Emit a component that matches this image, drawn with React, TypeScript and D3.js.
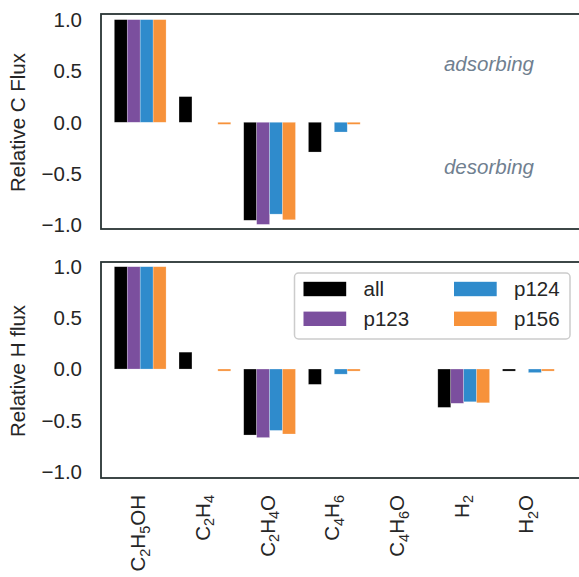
import * as d3 from "d3";
import { useEffect, useRef } from "react";

const categories = ["C2H5OH", "C2H4", "C2H4O", "C4H6", "C4H6O", "H2", "H2O"];
const seriesNames = ["all", "p123", "p124", "p156"];
const seriesColors = ["#000000", "#7b4f9e", "#2f8bcc", "#f7923a"];

// relative carbon flux per species
const cAll = [1, 0.25, -0.955, -0.29, 0, 0, 0];
const cP123 = [1, 0, -0.995, 0, 0, 0, 0];
const cP124 = [1, 0, -0.895, -0.095, 0, 0, 0];
const cP156 = [1, -0.02, -0.95, -0.02, 0, 0, 0];

// relative hydrogen flux per species
const hAll = [1, 0.165, -0.645, -0.15, 0, -0.375, -0.02];
const hP123 = [1, 0, -0.67, 0, 0, -0.335, 0];
const hP124 = [1, 0, -0.6, -0.05, 0, -0.32, -0.035];
const hP156 = [1, -0.02, -0.635, -0.02, 0, -0.33, -0.02];

const yTicks = [-1, -0.5, 0, 0.5, 1];

const FONT = "'Liberation Sans', Arial, sans-serif";
const TEXT = "#262626";
const SPINE = "#283434";

export default function App() {
    const svgRef = useRef<SVGSVGElement>(null);
    const width = 579;
    const height = 577;
    const left = 101;
    const right = 582;

    useEffect(() => {
        if (svgRef.current) {
            drawChart();
        }
    }, [svgRef]);

    const drawChart = () => {
        const svg = d3.select(svgRef.current);
        svg.selectAll("*").remove();

        // group position and bar offset inside group
        const step = 64.7;
        const firstCenter = 140.2;
        const x0 = d3
            .scaleBand()
            .domain(categories)
            .range([firstCenter - step / 2, firstCenter - step / 2 + step * categories.length])
            .padding(0);
        const x1 = d3
            .scaleBand()
            .domain(seriesNames)
            .range([0.1 * step, 0.9 * step])
            .padding(0);

        drawPanel(svg, x0, x1, 14, 229, [-1.04, 1.055], [cAll, cP123, cP124, cP156], "Relative C Flux");
        drawPanel(svg, x0, x1, 262, 478, [-1.065, 1.046], [hAll, hP123, hP124, hP156], "Relative H flux");

        // annotations in top panel
        svg.append("text")
            .attr("x", 489)
            .attr("y", 71)
            .attr("text-anchor", "middle")
            .attr("font-style", "italic")
            .attr("font-size", 20.5)
            .attr("fill", "#708090")
            .text("adsorbing");
        svg.append("text")
            .attr("x", 489)
            .attr("y", 174)
            .attr("text-anchor", "middle")
            .attr("font-style", "italic")
            .attr("font-size", 20.5)
            .attr("fill", "#708090")
            .text("desorbing");

        drawLegend(svg);
        drawXLabels(svg, x0);
    };

    const drawPanel = (svg: any, x0: any, x1: any, top: number, bottom: number, domain: number[], values: number[][], label: string) => {
        const y = d3.scaleLinear().domain(domain).range([bottom, top]);
        const g = svg.append("g");

        // bars
        seriesNames.forEach((s, si) => {
            g.append("g")
                .selectAll("rect")
                .data(values[si].map((v, i) => ({ v, cat: categories[i] })).filter((d) => d.v !== 0))
                .enter()
                .append("rect")
                .attr("x", (d: any) => x0(d.cat) + x1(s))
                .attr("width", x1.bandwidth())
                .attr("y", (d: any) => Math.min(y(d.v), y(0)))
                .attr("height", (d: any) => Math.max(Math.abs(y(d.v) - y(0)), 2))
                .attr("fill", seriesColors[si])
                .attr("stroke", "#ffffff")
                .attr("stroke-opacity", 0.4)
                .attr("stroke-width", 0.6);
        });

        // frame
        g.append("rect")
            .attr("x", left)
            .attr("y", top)
            .attr("width", right - left)
            .attr("height", bottom - top)
            .attr("fill", "none")
            .attr("stroke", SPINE)
            .attr("stroke-width", 1.8);

        // y tick labels
        g.append("g")
            .selectAll("text")
            .data(yTicks)
            .enter()
            .append("text")
            .attr("x", 82)
            .attr("y", (d: number) => y(d))
            .attr("dy", "0.36em")
            .attr("text-anchor", "end")
            .attr("font-size", 20.5)
            .attr("fill", TEXT)
            .text((d: number) => d3.format(".1f")(d));

        // y axis title
        g.append("text")
            .attr("transform", `translate(25,${(top + bottom) / 2 + 1}) rotate(-90)`)
            .attr("text-anchor", "middle")
            .attr("font-size", 20.5)
            .attr("fill", TEXT)
            .text(label);
    };

    const drawLegend = (svg: any) => {
        const lg = svg.append("g");
        lg.append("rect")
            .attr("x", 294.5)
            .attr("y", 273)
            .attr("width", 275.5)
            .attr("height", 66)
            .attr("rx", 4)
            .attr("fill", "#ffffff")
            .attr("fill-opacity", 0.85)
            .attr("stroke", "#cccccc")
            .attr("stroke-width", 1.5);

        const cols = [303.5, 454];
        const rows = [289, 318.8];
        // matplotlib fills columns first
        seriesNames.forEach((s, i) => {
            const cx = cols[Math.floor(i / 2)];
            const cy = rows[i % 2];
            lg.append("rect")
                .attr("x", cx)
                .attr("y", cy - 7.2)
                .attr("width", 42.7)
                .attr("height", 14.4)
                .attr("fill", seriesColors[i]);
            lg.append("text")
                .attr("x", cx + 60)
                .attr("y", cy)
                .attr("dy", "0.36em")
                .attr("font-size", 20.5)
                .attr("fill", TEXT)
                .text(s);
        });
    };

    const drawXLabels = (svg: any, x0: any) => {
        const xg = svg.append("g");
        categories.forEach((c) => {
            const cx = x0(c) + x0.bandwidth() / 2;
            const t = xg
                .append("text")
                .attr("transform", `translate(${cx + 5},495) rotate(-90)`)
                .attr("text-anchor", "end")
                .attr("font-size", 20.5)
                .attr("fill", TEXT);
            // digits become subscripts
            const parts = c.match(/[A-Za-z]+|\d+/g) || [];
            let sub = false;
            parts.forEach((p) => {
                const isDigit = /\d/.test(p);
                const ts = t.append("tspan").text(p);
                if (isDigit && !sub) {
                    ts.attr("dy", 4.5).attr("font-size", 14.5);
                    sub = true;
                } else if (isDigit) {
                    ts.attr("font-size", 14.5);
                } else if (sub) {
                    ts.attr("dy", -4.5);
                    sub = false;
                }
            });
        });
    };

    return (
        <svg
            ref={svgRef}
            width={width}
            height={height}
            style={{ position: "absolute", left: 0, top: 0, fontFamily: FONT, background: "#ffffff" }}
        />
    );
}
